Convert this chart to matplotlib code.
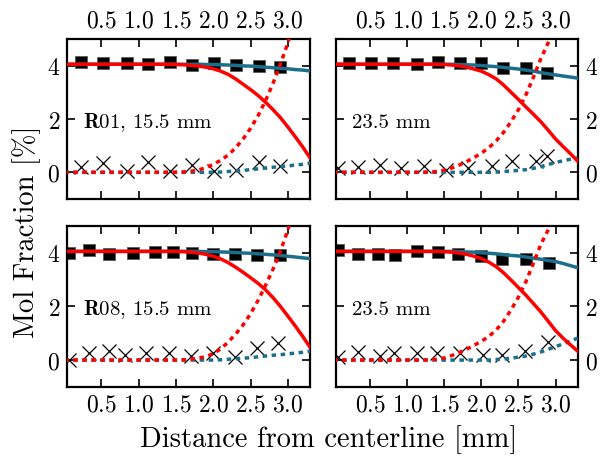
import matplotlib
matplotlib.use("Agg")
import matplotlib.pyplot as plt

plt.rcParams['font.family'] = ['cmr10']
plt.rcParams['mathtext.fontset'] = 'cm'
plt.rcParams['axes.formatter.use_mathtext'] = True
plt.rcParams['axes.unicode_minus'] = False
plt.rcParams['xtick.labelsize'] = 17
plt.rcParams['ytick.labelsize'] = 17

RED = '#ff0000'
TEAL = '#1b6f8c'

# x grid for the model curves [mm]
curve_x = [0.0, 0.6, 1.2, 1.3, 1.4, 1.5, 1.6, 1.7, 1.8, 1.9, 2.0, 2.1,
           2.2, 2.3, 2.4, 2.5, 2.6, 2.7, 2.8, 2.9, 3.0, 3.1, 3.2, 3.3]

# R01, 15.5 mm
tl_sq_x = [0.23, 0.52, 0.84, 1.13, 1.42, 1.72, 2.01, 2.31, 2.61, 2.90]
tl_sq_y = [4.15, 4.10, 4.10, 4.06, 4.15, 4.04, 4.10, 4.04, 4.00, 3.94]
tl_cr_x = [0.23, 0.52, 0.84, 1.13, 1.42, 1.72, 2.01, 2.31, 2.61, 2.90]
tl_cr_y = [0.19, 0.34, 0.06, 0.37, 0.04, 0.29, 0.06, 0.09, 0.37, 0.25]
tl_red = [4.05, 4.05, 4.05, 4.05, 4.05, 4.04, 4.03, 4.01, 3.98, 3.94, 3.88, 3.79,
          3.67, 3.50, 3.30, 3.10, 2.88, 2.63, 2.35, 2.05, 1.70, 1.33, 0.95, 0.53]
tl_red_d = [0, 0, 0, 0, 0, 0, 0.01, 0.04, 0.09, 0.17, 0.30, 0.45,
            0.65, 0.92, 1.25, 1.65, 2.12, 2.68, 3.33, 4.05, 4.85, 5.7, 6.6, 7.6]
tl_teal = [4.05, 4.05, 4.05, 4.05, 4.05, 4.05, 4.05, 4.05, 4.05, 4.04, 4.04, 4.03,
           4.02, 4.01, 3.99, 3.98, 3.96, 3.94, 3.92, 3.90, 3.88, 3.85, 3.83, 3.80]
tl_teal_d = [0, 0, 0, 0, 0, 0, 0, 0, 0, 0, 0, 0.01,
             0.03, 0.05, 0.07, 0.10, 0.13, 0.16, 0.19, 0.21, 0.24, 0.27, 0.30, 0.34]

# R01, 23.5 mm
tr_sq_x = [0.22, 0.51, 0.81, 1.13, 1.42, 1.71, 2.00, 2.29, 2.60, 2.89]
tr_sq_y = [4.09, 4.11, 4.09, 4.05, 4.15, 4.09, 4.11, 3.90, 3.90, 3.71]
tr_cr_x = [0.07, 0.33, 0.63, 0.92, 1.22, 1.52, 1.82, 2.14, 2.41, 2.73, 2.89]
tr_cr_y = [0.16, 0.19, 0.26, 0.16, 0.22, 0.10, 0.16, 0.22, 0.41, 0.44, 0.60]
tr_red = [4.05, 4.05, 4.05, 4.05, 4.05, 4.04, 4.02, 3.99, 3.94, 3.87, 3.79, 3.66,
          3.50, 3.27, 3.00, 2.73, 2.45, 2.18, 1.90, 1.58, 1.25, 0.97, 0.70, 0.41]
tr_red_d = [0, 0, 0, 0.01, 0.03, 0.08, 0.16, 0.27, 0.40, 0.55, 0.72, 0.92,
            1.18, 1.50, 1.90, 2.35, 2.90, 3.55, 4.25, 4.85, 5.5, 6.2, 6.9, 7.6]
tr_teal = [4.05, 4.05, 4.05, 4.05, 4.05, 4.05, 4.05, 4.04, 4.03, 4.02, 4.00, 3.98,
           3.96, 3.93, 3.90, 3.87, 3.83, 3.79, 3.74, 3.69, 3.65, 3.61, 3.57, 3.53]
tr_teal_d = [0, 0, 0, 0, 0, 0, 0, 0, 0, 0, 0, 0,
             0.01, 0.03, 0.05, 0.07, 0.10, 0.15, 0.21, 0.29, 0.37, 0.43, 0.49, 0.54]

# R08, 15.5 mm
bl_sq_x = [0.065, 0.33, 0.60, 0.92, 1.22, 1.46, 1.72, 2.00, 2.29, 2.58, 2.89]
bl_sq_y = [4.00, 4.09, 3.96, 4.00, 4.04, 4.04, 4.00, 3.97, 3.94, 3.90, 3.90]
bl_cr_x = [0.07, 0.33, 0.60, 0.81, 1.10, 1.40, 1.70, 1.99, 2.29, 2.58, 2.87]
bl_cr_y = [0.00, 0.25, 0.34, 0.19, 0.25, 0.25, 0.15, 0.25, 0.12, 0.46, 0.65]
bl_red = [4.05, 4.05, 4.05, 4.05, 4.05, 4.05, 4.04, 4.02, 3.99, 3.94, 3.87, 3.77,
          3.63, 3.46, 3.27, 3.07, 2.86, 2.62, 2.33, 2.00, 1.64, 1.27, 0.88, 0.47]
bl_red_d = [0, 0, 0, 0, 0, 0, 0.01, 0.03, 0.07, 0.13, 0.24, 0.42,
            0.67, 0.97, 1.31, 1.73, 2.22, 2.78, 3.38, 4.05, 4.85, 5.7, 6.6, 7.6]
bl_teal = [4.05, 4.05, 4.05, 4.05, 4.05, 4.05, 4.05, 4.05, 4.05, 4.04, 4.04, 4.03,
           4.02, 4.01, 3.99, 3.98, 3.96, 3.94, 3.92, 3.90, 3.87, 3.84, 3.81, 3.78]
bl_teal_d = [0, 0, 0, 0, 0, 0, 0, 0, 0, 0, 0, 0.01,
             0.03, 0.05, 0.07, 0.09, 0.12, 0.15, 0.18, 0.20, 0.23, 0.26, 0.29, 0.33]

# R08, 23.5 mm
br_sq_x = [0.07, 0.33, 0.61, 0.84, 1.13, 1.42, 1.69, 2.00, 2.28, 2.60, 2.91]
br_sq_y = [4.09, 3.94, 3.96, 3.91, 4.06, 4.04, 3.94, 3.88, 3.75, 3.78, 3.63]
br_cr_x = [0.07, 0.33, 0.63, 0.82, 1.13, 1.40, 1.71, 2.02, 2.28, 2.59, 2.90]
br_cr_y = [0.12, 0.31, 0.15, 0.25, 0.25, 0.25, 0.25, 0.19, 0.19, 0.34, 0.69]
br_red = [4.05, 4.05, 4.05, 4.05, 4.05, 4.04, 4.02, 3.99, 3.94, 3.87, 3.78, 3.65,
          3.48, 3.25, 2.98, 2.70, 2.42, 2.11, 1.80, 1.45, 1.10, 0.82, 0.57, 0.33]
br_red_d = [0, 0, 0, 0.01, 0.03, 0.08, 0.17, 0.28, 0.40, 0.55, 0.70, 0.88,
            1.12, 1.45, 1.87, 2.35, 2.92, 3.60, 4.30, 4.85, 5.5, 6.2, 6.9, 7.6]
br_teal = [4.05, 4.05, 4.05, 4.05, 4.05, 4.05, 4.05, 4.04, 4.03, 4.02, 4.00, 3.98,
           3.96, 3.93, 3.90, 3.88, 3.84, 3.80, 3.76, 3.71, 3.67, 3.60, 3.52, 3.44]
br_teal_d = [0, 0, 0, 0, 0, 0, 0, 0, 0, 0, 0, 0,
             0.02, 0.04, 0.07, 0.11, 0.15, 0.22, 0.30, 0.40, 0.50, 0.60, 0.71, 0.82]

panels = [
    (tl_sq_x, tl_sq_y, tl_cr_x, tl_cr_y, tl_red, tl_red_d, tl_teal, tl_teal_d, r'$\mathbf{R01}$, 15.5 mm'),
    (tr_sq_x, tr_sq_y, tr_cr_x, tr_cr_y, tr_red, tr_red_d, tr_teal, tr_teal_d, '23.5 mm'),
    (bl_sq_x, bl_sq_y, bl_cr_x, bl_cr_y, bl_red, bl_red_d, bl_teal, bl_teal_d, r'$\mathbf{R08}$, 15.5 mm'),
    (br_sq_x, br_sq_y, br_cr_x, br_cr_y, br_red, br_red_d, br_teal, br_teal_d, '23.5 mm'),
]

# axes boxes in figure fractions
boxes = [
    [0.112, 0.569, 0.405, 0.345],
    [0.560, 0.569, 0.403, 0.345],
    [0.112, 0.164, 0.405, 0.347],
    [0.560, 0.164, 0.403, 0.347],
]

fig = plt.figure(figsize=(6, 4.64), dpi=100)
dots = (0, (1.3, 1.3))

for i, (p, box) in enumerate(zip(panels, boxes)):
    sq_x, sq_y, cr_x, cr_y, red, red_d, teal, teal_d, label = p
    ax = fig.add_axes(box)
    ax.plot(sq_x, sq_y, 's', color='black', ms=9, mec='0.35', mew=0.6, zorder=2)
    ax.plot(cr_x, cr_y, 'x', color='black', ms=10, mew=0.9, zorder=2)
    ax.plot(curve_x, teal, '-', color=TEAL, lw=2.5, zorder=3)
    ax.plot(curve_x, teal_d, linestyle=dots, color=TEAL, lw=2.5, zorder=3)
    ax.plot(curve_x, red, '-', color=RED, lw=2.5, zorder=4)
    ax.plot(curve_x, red_d, linestyle=dots, color=RED, lw=2.5, zorder=4)
    ax.text(0.25, 1.9, label, fontsize=15, va='center', ha='left')

    ax.set_xlim(0.04, 3.3)
    ax.set_ylim(-1, 5)
    ax.set_xticks([0.5, 1.0, 1.5, 2.0, 2.5, 3.0])
    ax.set_yticks([0, 2, 4])
    ax.tick_params(direction='in', length=6, width=1.2, top=True, right=True, pad=5)
    if i < 2:
        ax.tick_params(labeltop=True, labelbottom=False)
    if i % 2 == 1:
        ax.tick_params(labelright=True, labelleft=False)
    for s in ax.spines.values():
        s.set_linewidth(1.6)

fig.text(0.045, 0.5, 'Mol Fraction [%]', rotation=90, fontsize=20.5,
         ha='center', va='center')
fig.text(0.547, 0.052, 'Distance from centerline [mm]', fontsize=20.5,
         ha='center', va='center')

fig.savefig('out.png', dpi=100)
